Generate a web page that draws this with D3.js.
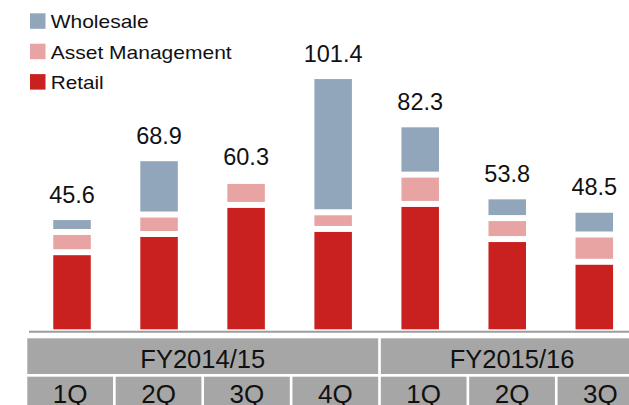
<!DOCTYPE html>
<html>
<head>
<meta charset="utf-8">
<script src="https://cdn.jsdelivr.net/npm/d3@7/dist/d3.min.js"></script>
<style>
  body { margin: 0; background: #fff; }
  svg { display: block; }
  text { font-family: "Liberation Sans", Arial, sans-serif; fill: #111; }
</style>
</head>
<body>
<script>
// data (JPY bn)
var quarters = ["1Q", "2Q", "3Q", "4Q", "1Q", "2Q", "3Q"];
var fiscalYears = ["FY2014/15", "FY2015/16"];
var yearOf = [0, 0, 0, 0, 1, 1, 1];
var retail = [31.7, 38.9, 50.4, 40.9, 50.8, 36.9, 27.9];
var assetMgmt = [8.0, 7.7, 9.5, 6.6, 11.6, 8.3, 10.8];
var wholesale = [5.9, 22.3, 0.4, 53.9, 19.9, 8.6, 9.8];
var totals = [45.6, 68.9, 60.3, 101.4, 82.3, 53.8, 48.5];
var seriesNames = ["Retail", "Asset Management", "Wholesale"];

var colors = {
    "Retail": "#c9211f",
    "Asset Management": "#e8a4a2",
    "Wholesale": "#91a6ba"
};

var width = 629,
    height = 405,
    baseY = 332.3,
    inset = 3;

var svg = d3.select("body").append("svg")
    .attr("width", width)
    .attr("height", height);

var idx = d3.range(quarters.length);

var x = d3.scaleBand()
    .domain(idx)
    .range([28.5, 637.8])
    .paddingInner(0.5)
    .paddingOuter(0.25);

var cell = d3.scaleBand()
    .domain(idx)
    .range([27.3, 643.3])
    .paddingInner(0.03)
    .paddingOuter(0);

var y = d3.scaleLinear()
    .domain([0, 110])
    .range([baseY, baseY - 110 * 2.527]);

var rows = idx.map(function(i) {
    return { i: i, "Retail": retail[i], "Asset Management": assetMgmt[i], "Wholesale": wholesale[i] };
});

var stacked = d3.stack().keys(seriesNames)(rows);

// bars (white gap around every segment)
svg.append("g").selectAll("g")
    .data(stacked)
    .enter().append("g")
    .attr("fill", function(d) { return colors[d.key]; })
    .selectAll("rect")
    .data(function(d) { return d; })
    .enter().append("rect")
    .attr("x", function(d) { return x(d.data.i) + inset; })
    .attr("width", x.bandwidth() - 2 * inset)
    .attr("y", function(d) { return y(d[1]) + inset; })
    .attr("height", function(d) { return Math.max(0, y(d[0]) - y(d[1]) - 2 * inset); });

// total labels
svg.append("g").selectAll("text")
    .data(idx)
    .enter().append("text")
    .attr("x", function(i) { return x(i) + x.bandwidth() / 2; })
    .attr("y", function(i) { return y(totals[i]) - 14.5; })
    .attr("text-anchor", "middle")
    .attr("font-size", "23.5px")
    .text(function(i) { return totals[i].toFixed(1); });

// axis line
svg.append("line")
    .attr("x1", 29).attr("x2", width)
    .attr("y1", baseY - 0.5).attr("y2", baseY - 0.5)
    .attr("stroke", "#9c9c9c")
    .attr("stroke-width", 2);

// fiscal year bands
fiscalYears.forEach(function(fy, k) {
    var cells = idx.filter(function(i) { return yearOf[i] === k; });
    var x0 = cell(cells[0]),
        x1 = cell(cells[cells.length - 1]) + cell.bandwidth();
    svg.append("rect")
        .attr("x", x0).attr("y", 338.3)
        .attr("width", x1 - x0).attr("height", 35.7)
        .attr("fill", "#a6a6a6");
    svg.append("text")
        .attr("x", (x0 + Math.min(x1, width + 60)) / 2)
        .attr("y", 367.5)
        .attr("text-anchor", "middle")
        .attr("font-size", "25.5px")
        .text(fy);
});

// quarter cells
var qc = svg.append("g").selectAll("g")
    .data(idx)
    .enter().append("g");

qc.append("rect")
    .attr("x", function(i) { return cell(i); })
    .attr("y", 376.7)
    .attr("width", cell.bandwidth())
    .attr("height", 40)
    .attr("fill", "#a6a6a6");

qc.append("text")
    .attr("x", function(i) { return cell(i) + cell.bandwidth() / 2; })
    .attr("y", 402.5)
    .attr("text-anchor", "middle")
    .attr("font-size", "26px")
    .text(function(i) { return quarters[i]; });

// legend
var legendOrder = ["Wholesale", "Asset Management", "Retail"];
var legendWidths = [98, 181, 53];

var lg = svg.append("g").selectAll("g")
    .data(legendOrder)
    .enter().append("g")
    .attr("transform", function(d, k) { return "translate(30," + (13.3 + k * 30.4) + ")"; });

lg.append("rect")
    .attr("width", 15.5)
    .attr("height", 15.5)
    .attr("fill", function(d) { return colors[d]; });

lg.append("text")
    .attr("x", 20.7)
    .attr("y", 14.8)
    .attr("font-size", "19px")
    .attr("textLength", function(d, k) { return legendWidths[k]; })
    .attr("lengthAdjust", "spacingAndGlyphs")
    .text(function(d) { return d; });
</script>
</body>
</html>
